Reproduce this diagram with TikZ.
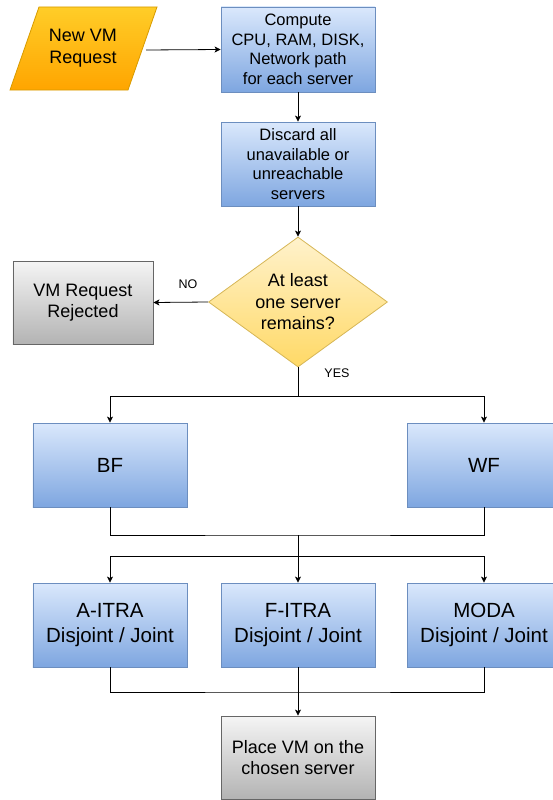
\documentclass[tikz,border=0pt]{standalone}
\usepackage{fontspec}
\setmainfont{Liberation Sans}
\usetikzlibrary{shapes.geometric,arrows.meta}
\definecolor{bluetop}{HTML}{DAE8FC}
\definecolor{bluebot}{HTML}{7EA6E0}
\definecolor{blueline}{HTML}{6C8EBF}
\definecolor{orangetop}{HTML}{FFCD28}
\definecolor{orangebot}{HTML}{FFA500}
\definecolor{orangeline}{HTML}{D79B00}
\definecolor{yeltop}{HTML}{FFF2CC}
\definecolor{yelbot}{HTML}{FFD966}
\definecolor{yelline}{HTML}{D6B656}
\definecolor{graytop}{HTML}{F5F5F5}
\definecolor{graybot}{HTML}{B3B3B3}
\definecolor{grayline}{HTML}{666666}
\tikzset{
  bluebox/.style={rectangle, draw=blueline, line width=0.8bp, top color=bluetop, bottom color=bluebot,
    minimum width=154bp, minimum height=84bp, inner sep=0pt, align=center},
  smalltxt/.style={font=\fontsize{16.5bp}{19.5bp}\selectfont},
  bigtxt/.style={font=\fontsize{20.5bp}{25bp}\selectfont},
  midtxt/.style={font=\fontsize{18bp}{21.5bp}\selectfont},
  graybox/.style={rectangle, draw=grayline, line width=0.8bp, top color=graytop, bottom color=graybot,
    inner sep=0pt, align=center, midtxt},
  conn/.style={draw=black, line width=0.8bp},
  arr/.style={conn, -{Stealth[length=6bp,width=6bp,inset=1.5bp]}},
  lbl/.style={font=\fontsize{12.5bp}{15bp}\selectfont, inner sep=0pt},
}
\begin{document}
\begin{tikzpicture}[x=1bp,y=-1bp]
\useasboundingbox (0,0) rectangle (553,800);
% parallelogram
\shade[top color=orangetop, bottom color=orangebot, draw=orangeline, line width=0.8bp]
  (39,7) -- (157,7) -- (128,90) -- (10,90) -- cycle;
\node[midtxt, align=center, inner sep=0pt] (req) at (83,48) {New VM\\Request};
\coordinate (reqout) at (146,50);

\node[bluebox, smalltxt, minimum height=85bp] (comp) at (298,49.5) {Compute\\CPU, RAM, DISK,\\Network path\\for each server};
\node[bluebox, smalltxt] (disc) at (298,164) {Discard all\\unavailable or\\unreachable\\servers};
\node[diamond, draw=yelline, line width=0.8bp, top color=yeltop, bottom color=yelbot,
  minimum width=179bp, minimum height=130bp, aspect=1.377, inner sep=0pt, align=center, midtxt]
  (dec) at (298,302) {At least\\one server\\remains?};
\node[graybox, minimum width=140bp, minimum height=83bp] (rej) at (83,302.5) {VM Request\\Rejected};

\node[bluebox, bigtxt] (bf) at (110,465) {BF};
\node[bluebox, bigtxt] (wf) at (484,465) {WF};
\node[bluebox, bigtxt] (aitra) at (110,625) {A-ITRA\\Disjoint / Joint};
\node[bluebox, bigtxt] (fitra) at (298,625) {F-ITRA\\Disjoint / Joint};
\node[bluebox, bigtxt] (moda) at (484,625) {MODA\\Disjoint / Joint};
\node[graybox, minimum width=154bp, minimum height=83bp] (place) at (298,757.5) {Place VM on the\\chosen server};

\coordinate (split1) at (298,396);
\coordinate (join1) at (298,535);
\coordinate (split2) at (298,556);
\coordinate (join2) at (298,692);

\draw[arr] (reqout) -- (comp.west);
\draw[arr] (comp.south) -- (disc.north);
\draw[arr] (disc.south) -- (dec.north);
\draw[arr] (dec.west) -- (rej.east);
\node[lbl] (nolbl) at (188,284) {NO};
\draw[conn] (dec.south) -- (split1);
\node[lbl] (yeslbl) at (337,373) {YES};
\draw[arr] (split1) -| (bf.north);
\draw[arr] (split1) -| (wf.north);
\draw[conn] (bf.south) |- (join1) -| (wf.south);
\draw[arr] (join1) -- (fitra.north);
\draw[arr] (split2) -| (aitra.north);
\draw[arr] (split2) -| (moda.north);
\draw[conn] (aitra.south) |- (join2) -| (moda.south);
\draw[arr] (fitra.south) -- (place.north);
\end{tikzpicture}
\end{document}
